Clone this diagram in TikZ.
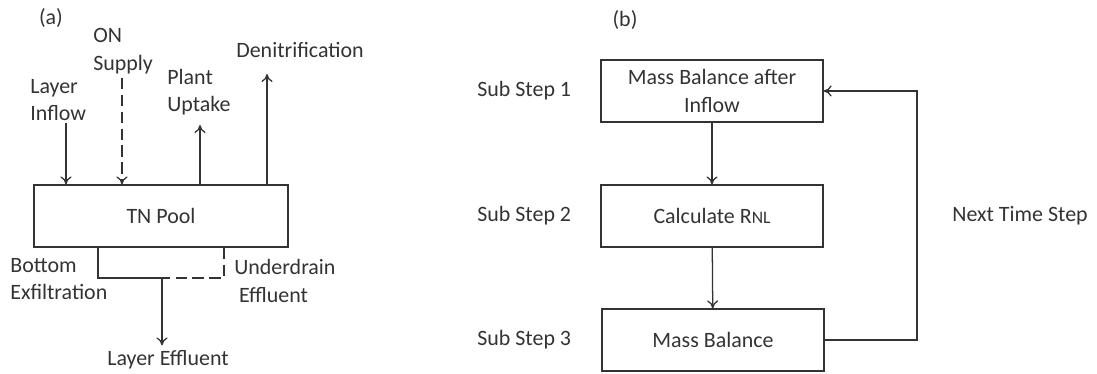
\documentclass[tikz,border=0pt]{standalone}
\usepackage{fontspec}
\setmainfont{Carlito}
\usetikzlibrary{arrows.meta}

\tikzset{
	box/.style = { draw, minimum width=5.55cm, minimum height=1.55cm, align=center },
	lbl/.style = { align=left, anchor=west },
	flow/.style = { -{To[length=2mm,width=2.8mm]} },
	dashflow/.style = { dash pattern=on 8pt off 4pt },
}

\begin{document}
\begin{tikzpicture}[ x=0.025cm, y=-0.025cm, line width=0.9pt, color=black!80, font=\fontsize{15.6}{19.5}\selectfont ]
	  \useasboundingbox (0,0) rectangle (1097,374);

	  \node (a) at (51,18) {(a)};
	  \node [ box, minimum width=6.35cm ] (pool) at (161,216) {TN Pool};

	  \node [ lbl ] (inflow) at (25,100) {Layer\\Inflow};
	  \node [ lbl ] (onsupply) at (88,51) {ON\\Supply};
	  \node [ lbl ] (uptake) at (162,92) {Plant\\Uptake};
	  \node [ lbl ] (denit) at (231,50) {Denitrification};

	  \coordinate (inflowend) at (66,123);
	  \coordinate (onend) at (122,78);
	  \coordinate (uptakeend) at (200,125);
	  \coordinate (denitend) at (267,74);
	  \draw [ flow ] (inflowend) -- (inflowend |- pool.north);
	  \draw [ flow, dashflow ] (onend) -- (onend |- pool.north);
	  \draw [ flow ] (uptakeend |- pool.north) -- (uptakeend);
	  \draw [ flow ] (denitend |- pool.north) -- (denitend);

	  \coordinate (exfil) at (98,278);
	  \coordinate (split) at (162,278);
	  \coordinate (drain) at (224,278);
	  \draw (exfil |- pool.south) -- (exfil) -- (split);
	  \draw [ dashflow ] (drain |- pool.south) -- (drain) -- (split);

	  \node (effluent) at (168,360) {Layer Effluent};
	  \draw [ flow ] (split) -- (split |- effluent.north);

	  \node [ lbl ] (bottom) at (5,279) {Bottom\\Exfiltration};
	  \node [ lbl ] (underdrain) at (229,281) {Underdrain\\\hspace{0.12cm}Effluent};

	  \node (b) at (625,20) {(b)};
	  \node [ box ] (mass1) at (712,91) {Mass Balance after\\Inflow};
	  \node [ box ] (calc) at (712,216) {Calculate R{\fontsize{12.5}{15}\selectfont NL}};
	  \node [ box ] (mass3) at (713,340) {Mass Balance};

	  \node [ lbl ] (sub1) at (472,91) {Sub Step 1};
	  \node [ lbl ] (sub2) at (472,216) {Sub Step 2};
	  \node [ lbl ] (sub3) at (472,340) {Sub Step 3};

	  \draw [ flow ] (mass1) -- (calc);
	  \draw [ flow ] (calc) -- (mass3);

	  \coordinate (loop) at (917,216);
	  \draw [ flow ] (mass3.east) -| (loop) |- (mass1.east);
	  \node [ lbl ] (next) at (947,216) {Next Time Step};
	\end{tikzpicture}
\end{document}
